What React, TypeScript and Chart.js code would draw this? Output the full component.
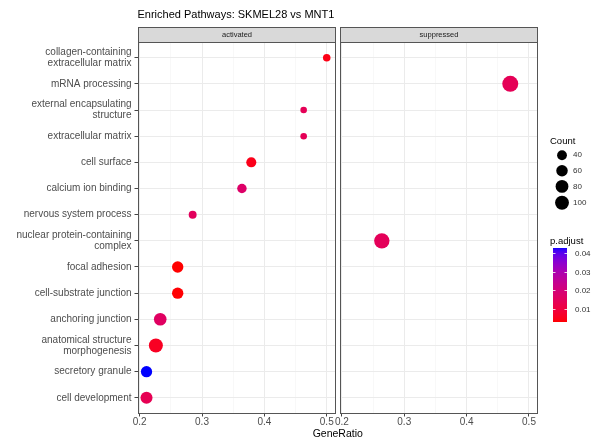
import React, { useEffect, useRef } from 'react';
import { Chart, registerables } from 'chart.js';

Chart.register(...registerables);

const FONT = "'Liberation Sans', Arial, Helvetica, sans-serif";

const chartTitle = 'Enriched Pathways: SKMEL28 vs MNT1';
const xTitle = 'GeneRatio';
const panels = ['activated', 'suppressed'];

const categories = [
  'collagen-containing extracellular matrix',
  'mRNA processing',
  'external encapsulating structure',
  'extracellular matrix',
  'cell surface',
  'calcium ion binding',
  'nervous system process',
  'nuclear protein-containing complex',
  'focal adhesion',
  'cell-substrate junction',
  'anchoring junction',
  'anatomical structure morphogenesis',
  'secretory granule',
  'cell development',
];

const activatedTerms = [
  'collagen-containing extracellular matrix',
  'external encapsulating structure',
  'extracellular matrix',
  'cell surface',
  'calcium ion binding',
  'nervous system process',
  'focal adhesion',
  'cell-substrate junction',
  'anchoring junction',
  'anatomical structure morphogenesis',
  'secretory granule',
  'cell development',
];
const activatedRatio = [0.5, 0.463, 0.463, 0.379, 0.364, 0.285, 0.261, 0.261, 0.233, 0.226, 0.211, 0.211];
const activatedCount = [23, 22, 22, 35, 31, 24, 47, 47, 61, 82, 46, 54];
const activatedPadj = [0.0045, 0.014, 0.014, 0.005, 0.017, 0.015, 0.003, 0.0032, 0.016, 0.006, 0.0427, 0.0135];

const suppressedTerms = ['mRNA processing', 'nuclear protein-containing complex'];
const suppressedRatio = [0.47, 0.264];
const suppressedCount = [118, 106];
const suppressedPadj = [0.014, 0.0145];

const xMajorTicks = [0.2, 0.3, 0.4, 0.5];
const xMinorTicks = [0.25, 0.35, 0.45];
const countBreaks = [40, 60, 80, 100];
const padjBreaks = [0.01, 0.02, 0.03, 0.04];

// ---- derived ranges ----
const allRatio = [...activatedRatio, ...suppressedRatio];
const allCount = [...activatedCount, ...suppressedCount];
const allPadj = [...activatedPadj, ...suppressedPadj];
const rMin = Math.min(...allRatio);
const rMax = Math.max(...allRatio);
const rSpan = rMax - rMin;
const panelMin = rMin - 0.05 * rSpan;
const panelMax = rMax + 0.05 * rSpan;
const cMin = Math.min(...allCount);
const cMax = Math.max(...allCount);
const pMin = Math.min(...allPadj);
const pMax = Math.max(...allPadj);

// ---- layout ----
const W = 592;
const H = 443;
const PLOT_LEFT = 137.5;
const PLOT_RIGHT = 538;
const PLOT_TOP = 42;
const PLOT_BOTTOM = 413.5;
const PANEL_GAP = 4;
const halfW = (PLOT_RIGHT - PLOT_LEFT) / 2;
const panelPx = halfW - PANEL_GAP / 2;
const perPx = (panelMax - panelMin) / panelPx;
const leftAxisMax = panelMax + (PANEL_GAP / 2) * perPx;
const rightAxisMin = panelMin - (PANEL_GAP / 2) * perPx;

const R_MIN = 3.3;
const R_MAX = 8.0;
function sizeFn(c: number) {
  const t = Math.max(0, (c - cMin) / (cMax - cMin));
  return R_MIN + (R_MAX - R_MIN) * Math.sqrt(t);
}

// Lab interpolation red -> blue (like ggplot2 gradient)
function toLin(c: number) {
  c /= 255;
  return c <= 0.04045 ? c / 12.92 : Math.pow((c + 0.055) / 1.055, 2.4);
}
function fromLin(c: number) {
  const v = c <= 0.0031308 ? 12.92 * c : 1.055 * Math.pow(c, 1 / 2.4) - 0.055;
  return Math.round(Math.max(0, Math.min(1, v)) * 255);
}
function rgbToLab(rgb: number[]) {
  const R = toLin(rgb[0]), G = toLin(rgb[1]), B = toLin(rgb[2]);
  const X = (0.4124564 * R + 0.3575761 * G + 0.1804375 * B) / 0.95047;
  const Y = 0.2126729 * R + 0.7151522 * G + 0.072175 * B;
  const Z = (0.0193339 * R + 0.119192 * G + 0.9503041 * B) / 1.08883;
  const f = (t: number) => (t > 216 / 24389 ? Math.cbrt(t) : ((24389 / 27) * t + 16) / 116);
  const fx = f(X), fy = f(Y), fz = f(Z);
  return [116 * fy - 16, 500 * (fx - fy), 200 * (fy - fz)];
}
function labToRgb(lab: number[]) {
  const fy = (lab[0] + 16) / 116;
  const fx = fy + lab[1] / 500;
  const fz = fy - lab[2] / 200;
  const finv = (t: number) => (t * t * t > 216 / 24389 ? t * t * t : (116 * t - 16) / (24389 / 27));
  const X = finv(fx) * 0.95047, Y = finv(fy), Z = finv(fz) * 1.08883;
  const R = 3.2404542 * X - 1.5371385 * Y - 0.4985314 * Z;
  const G = -0.969266 * X + 1.8760108 * Y + 0.041556 * Z;
  const B = 0.0556434 * X - 0.2040259 * Y + 1.0572252 * Z;
  return [fromLin(R), fromLin(G), fromLin(B)];
}
const LAB_LOW = rgbToLab([255, 0, 0]);
const LAB_HIGH = rgbToLab([0, 0, 255]);
function colorFn(p: number) {
  const t = Math.max(0, Math.min(1, (p - pMin) / (pMax - pMin)));
  const lab = LAB_LOW.map((v, i) => v + (LAB_HIGH[i] - v) * t);
  const c = labToRgb(lab);
  return `rgb(${c[0]},${c[1]},${c[2]})`;
}

function wrapLabel(s: string, width = 30) {
  const words = s.split(' ');
  const lines: string[] = [];
  let cur = '';
  for (const w of words) {
    if (!cur) cur = w;
    else if ((cur + ' ' + w).length <= width) cur += ' ' + w;
    else {
      lines.push(cur);
      cur = w;
    }
  }
  if (cur) lines.push(cur);
  return lines;
}

const isMajor = (v: any) => typeof v === 'number' && xMajorTicks.some((m) => Math.abs(m - v) < 1e-9);

function xAxis(min: number, max: number) {
  return {
    type: 'linear',
    position: 'bottom',
    stack: 'panels',
    stackWeight: 1,
    min,
    max,
    offset: false,
    afterBuildTicks: (s: any) => {
      s.ticks = [...xMajorTicks, ...xMinorTicks].sort((a, b) => a - b).map((v) => ({ value: v }));
    },
    afterFit: (s: any) => {
      s.height = H - PLOT_BOTTOM;
    },
    border: { display: false },
    grid: {
      color: (c: any) => (isMajor(c.tick && c.tick.value) ? '#EBEBEB' : '#F3F3F3'),
      lineWidth: (c: any) => (isMajor(c.tick && c.tick.value) ? 1 : 0.6),
      tickColor: (c: any) => (isMajor(c.tick && c.tick.value) ? '#444444' : 'rgba(0,0,0,0)'),
      tickLength: 3,
      drawTicks: true,
    },
    ticks: {
      autoSkip: false,
      maxRotation: 0,
      minRotation: 0,
      padding: 1,
      color: '#4D4D4D',
      font: { family: FONT, size: 10, lineHeight: 1 },
      callback: (v: any) => (isMajor(v) ? String(v) : ''),
    },
  };
}

function makeDataset(terms: string[], ratio: number[], count: number[], padj: number[], axis: string) {
  const radii = count.map(sizeFn);
  const cols = padj.map(colorFn);
  return {
    label: axis,
    data: terms.map((t, i) => ({ x: ratio[i], y: categories.indexOf(t) })),
    xAxisID: axis,
    yAxisID: 'y',
    pointRadius: radii,
    pointHoverRadius: radii,
    pointBackgroundColor: cols,
    pointBorderColor: cols,
    pointBorderWidth: 0,
    clip: false,
  };
}

const decorPlugin = {
  id: 'decor',
  beforeDraw(chart: any) {
    const ctx = chart.ctx;
    ctx.save();
    ctx.fillStyle = '#ffffff';
    ctx.fillRect(0, 0, chart.width, chart.height);
    ctx.restore();
  },
  beforeDatasetsDraw(chart: any) {
    const { ctx, chartArea: ca } = chart;
    const lR = chart.scales.x.getPixelForValue(panelMax);
    const rL = chart.scales.x2.getPixelForValue(panelMin);
    ctx.save();
    ctx.fillStyle = '#ffffff';
    ctx.fillRect(lR, ca.top - 1, rL - lR, ca.bottom - ca.top + 2);
    ctx.restore();
  },
  afterDatasetsDraw(chart: any) {
    const { ctx, chartArea: ca } = chart;
    const rects = [
      [chart.scales.x.getPixelForValue(panelMin), chart.scales.x.getPixelForValue(panelMax)],
      [chart.scales.x2.getPixelForValue(panelMin), chart.scales.x2.getPixelForValue(panelMax)],
    ];
    ctx.save();
    ctx.strokeStyle = '#555555';
    ctx.lineWidth = 1;
    rects.forEach(([a, b]) => {
      ctx.strokeRect(Math.round(a) + 0.5, Math.round(ca.top) + 0.5, Math.round(b) - Math.round(a) - 1, Math.round(ca.bottom) - Math.round(ca.top) - 1);
    });
    ctx.restore();
  },
  afterDraw(chart: any) {
    const { ctx, chartArea: ca } = chart;
    const rects = [
      [chart.scales.x.getPixelForValue(panelMin), chart.scales.x.getPixelForValue(panelMax)],
      [chart.scales.x2.getPixelForValue(panelMin), chart.scales.x2.getPixelForValue(panelMax)],
    ];
    ctx.save();
    // strips
    const stripTop = Math.round(ca.top) - 15;
    rects.forEach(([a, b], i) => {
      const x0 = Math.round(a) + 0.5;
      const w = Math.round(b) - Math.round(a) - 1;
      ctx.fillStyle = '#D9D9D9';
      ctx.fillRect(x0, stripTop + 0.5, w, 15);
      ctx.strokeStyle = '#555555';
      ctx.lineWidth = 1;
      ctx.strokeRect(x0, stripTop + 0.5, w, 15);
      ctx.fillStyle = '#1A1A1A';
      ctx.font = `7.5px ${FONT}`;
      ctx.textAlign = 'center';
      ctx.textBaseline = 'middle';
      ctx.fillText(panels[i], x0 + w / 2, stripTop + 8);
    });
    // title
    ctx.fillStyle = '#000000';
    ctx.font = `11px ${FONT}`;
    ctx.textAlign = 'left';
    ctx.textBaseline = 'middle';
    ctx.fillText(chartTitle, ca.left, 15);
    // x title
    ctx.font = `10.5px ${FONT}`;
    ctx.textAlign = 'center';
    ctx.fillText(xTitle, (ca.left + ca.right) / 2, 434);

    // size legend
    const LX = 550;
    ctx.textAlign = 'left';
    ctx.font = `9.5px ${FONT}`;
    ctx.fillStyle = '#000000';
    ctx.fillText('Count', LX, 141);
    let y = 147.5;
    countBreaks.forEach((c) => {
      const r = sizeFn(c) * 0.92;
      const h = Math.max(15.5, 2 * r + 3);
      const cy = y + h / 2;
      ctx.beginPath();
      ctx.arc(562, cy, r, 0, Math.PI * 2);
      ctx.fillStyle = '#000000';
      ctx.fill();
      ctx.font = `8px ${FONT}`;
      ctx.fillStyle = '#333333';
      ctx.fillText(String(c), 573, cy);
      y += h;
    });

    // colour legend
    ctx.font = `9.5px ${FONT}`;
    ctx.fillStyle = '#000000';
    ctx.fillText('p.adjust', LX, 241);
    const bx = 553, bw = 14, bTop = 248, bBot = 322;
    const steps = bBot - bTop;
    for (let i = 0; i < steps; i++) {
      const p = pMax - ((i + 0.5) / steps) * (pMax - pMin);
      ctx.fillStyle = colorFn(p);
      ctx.fillRect(bx, bTop + i, bw, 1);
    }
    padjBreaks.forEach((p) => {
      const py = Math.round(bBot - ((p - pMin) / (pMax - pMin)) * (bBot - bTop)) + 0.5;
      ctx.strokeStyle = 'rgba(255,255,255,0.8)';
      ctx.lineWidth = 1;
      ctx.beginPath();
      ctx.moveTo(bx, py);
      ctx.lineTo(bx + 2.5, py);
      ctx.moveTo(bx + bw - 2.5, py);
      ctx.lineTo(bx + bw, py);
      ctx.stroke();
      ctx.font = `8px ${FONT}`;
      ctx.fillStyle = '#333333';
      ctx.fillText(p.toFixed(2), bx + bw + 8, py);
    });
    ctx.restore();
  },
};

export default function App() {
  const ref = useRef<HTMLCanvasElement | null>(null);
  useEffect(() => {
    document.body.style.margin = '0';
    if (!ref.current) return;
    const chart = new Chart(ref.current, {
      type: 'scatter',
      data: {
        datasets: [
          makeDataset(activatedTerms, activatedRatio, activatedCount, activatedPadj, 'x'),
          makeDataset(suppressedTerms, suppressedRatio, suppressedCount, suppressedPadj, 'x2'),
        ],
      },
      options: {
        animation: false,
        responsive: false,
        devicePixelRatio: 1,
        events: [],
        layout: { padding: { top: PLOT_TOP, right: W - PLOT_RIGHT, bottom: 0, left: 0 } },
        plugins: { legend: { display: false }, tooltip: { enabled: false }, title: { display: false } },
        scales: {
          x: xAxis(panelMin, leftAxisMax),
          x2: xAxis(rightAxisMin, panelMax),
          y: {
            type: 'linear',
            position: 'left',
            reverse: true,
            min: -0.6,
            max: categories.length - 0.4,
            afterBuildTicks: (s: any) => {
              s.ticks = categories.map((_, i) => ({ value: i }));
            },
            afterFit: (s: any) => {
              s.width = PLOT_LEFT;
            },
            border: { display: false },
            grid: { color: '#EBEBEB', lineWidth: 1, tickColor: '#444444', tickLength: 3 },
            ticks: {
              autoSkip: false,
              padding: 3,
              color: '#4D4D4D',
              font: { family: FONT, size: 10, lineHeight: 1.1 },
              callback: (v: any) => wrapLabel(categories[v] || ''),
            },
          },
        } as any,
      } as any,
      plugins: [decorPlugin],
    } as any);
    return () => chart.destroy();
  }, []);
  return (
    <div style={{ width: W, height: H, position: 'relative' }}>
      <canvas ref={ref} width={W} height={H} style={{ display: 'block' }} />
    </div>
  );
}
